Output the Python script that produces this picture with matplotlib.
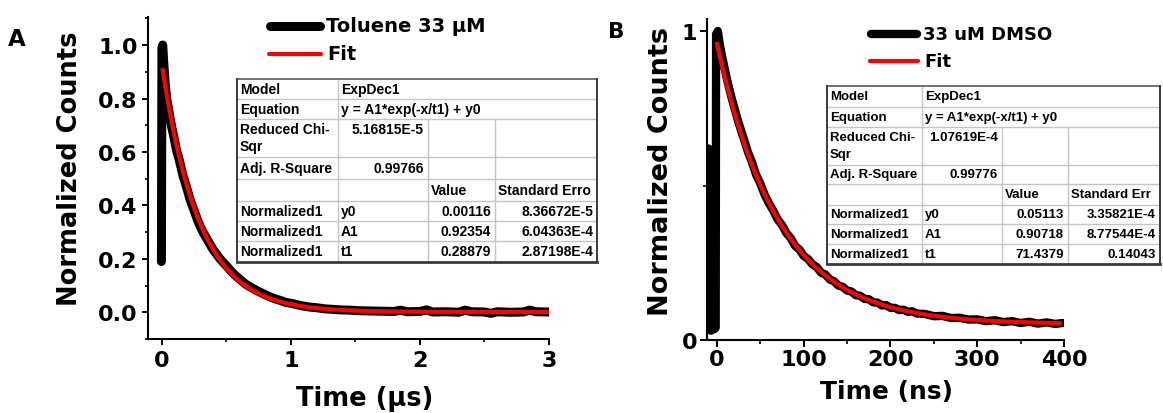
import numpy as np
import matplotlib
matplotlib.use("Agg")
import matplotlib.pyplot as plt
from matplotlib.lines import Line2D
from matplotlib.patches import Rectangle
from matplotlib.ticker import MultipleLocator

W, H = 1163, 414
plt.rcParams['font.family'] = ['DejaVu Sans']
plt.rcParams['font.weight'] = 'bold'

# ---------------- data: toluene, 33 uM (time in microseconds) ----------------
tol_t = [-0.004, 0.000, 0.006, 0.012, 0.020, 0.030, 0.040, 0.050, 0.060, 0.075,
         0.090, 0.100, 0.115, 0.130, 0.150, 0.165, 0.180, 0.200, 0.215, 0.230,
         0.250, 0.265, 0.280, 0.300, 0.320, 0.340, 0.360, 0.380, 0.400, 0.420,
         0.440, 0.460, 0.480, 0.500, 0.530, 0.560, 0.590, 0.620, 0.650, 0.680,
         0.710, 0.740, 0.770, 0.800, 0.840, 0.880, 0.920, 0.960, 1.000, 1.050,
         1.100, 1.150, 1.200, 1.260, 1.320, 1.380, 1.450, 1.520, 1.600, 1.700,
         1.800, 1.850, 1.900, 2.000, 2.050, 2.100, 2.200, 2.300, 2.350, 2.400,
         2.500, 2.550, 2.600, 2.700, 2.800, 2.850, 2.900, 3.000]
tol_y = [0.190, 0.990, 1.000, 0.950, 0.890, 0.830, 0.790, 0.765, 0.735, 0.695,
         0.662, 0.638, 0.603, 0.578, 0.538, 0.508, 0.486, 0.453, 0.426, 0.406,
         0.380, 0.360, 0.340, 0.318, 0.298, 0.282, 0.265, 0.248, 0.232, 0.220,
         0.206, 0.195, 0.184, 0.174, 0.157, 0.142, 0.129, 0.117, 0.105, 0.096,
         0.088, 0.080, 0.073, 0.066, 0.057, 0.050, 0.044, 0.037, 0.034, 0.028,
         0.023, 0.019, 0.017, 0.013, 0.011, 0.009, 0.008, 0.006, 0.005, 0.004,
         0.003, 0.008, 0.002, 0.003, 0.009, 0.001, 0.002, 0.000, 0.008, 0.002,
         0.001, -0.004, 0.002, 0.000, 0.001, 0.008, 0.002, 0.001]
tol_fit = {"y0": 0.00116, "A1": 0.92354, "t1": 0.28879}

# ---------------- data: DMSO, 33 uM (time in ns) ----------------
dmso_t = [-10.0, -9.5, -7.0, -5.0, -3.0, -1.5, -1.0, 1.0, 3.0, 5.0,
          8.0, 11.0, 14.0, 17.0, 20.0, 24.0, 28.0, 32.0, 36.0, 40.0,
          45.0, 50.0, 55.0, 60.0, 65.0, 70.0, 75.0, 80.0, 85.0, 90.0,
          95.0, 100.0, 105.0, 110.0, 115.0, 120.0, 125.0, 130.0, 135.0, 140.0,
          145.0, 150.0, 155.0, 160.0, 165.0, 170.0, 175.0, 180.0, 185.0, 190.0,
          195.0, 200.0, 205.0, 210.0, 215.0, 220.0, 225.0, 230.0, 240.0, 250.0,
          260.0, 270.0, 280.0, 290.0, 300.0, 310.0, 320.0, 330.0, 340.0, 350.0,
          360.0, 370.0, 380.0, 390.0, 398.0]
dmso_y = [0.620, 0.040, 0.030, 0.045, 0.035, 0.040, 0.990, 1.000, 0.960, 0.930,
          0.890, 0.850, 0.815, 0.782, 0.752, 0.712, 0.676, 0.642, 0.606, 0.578,
          0.536, 0.506, 0.470, 0.442, 0.418, 0.390, 0.372, 0.346, 0.330, 0.305,
          0.293, 0.272, 0.262, 0.245, 0.236, 0.218, 0.212, 0.196, 0.190, 0.176,
          0.172, 0.160, 0.157, 0.145, 0.143, 0.133, 0.132, 0.122, 0.121, 0.112,
          0.113, 0.104, 0.104, 0.097, 0.098, 0.091, 0.093, 0.086, 0.084, 0.077,
          0.078, 0.071, 0.072, 0.066, 0.067, 0.061, 0.064, 0.058, 0.061, 0.055,
          0.059, 0.053, 0.057, 0.052, 0.055]
dmso_fit = {"y0": 0.05113, "A1": 0.90718, "t1": 71.4379}

# ---------------- fit report tables ----------------
tol_table = [
    ["Model", "ExpDec1"],
    ["Equation", "y = A1*exp(-x/t1) + y0"],
    ["Reduced Chi-|Sqr", "5.16815E-5", "", ""],
    ["Adj. R-Square", "0.99766", "", ""],
    ["", "", "Value", "Standard Erro"],
    ["Normalized1", "y0", "0.00116", "8.36672E-5"],
    ["Normalized1", "A1", "0.92354", "6.04363E-4"],
    ["Normalized1", "t1", "0.28879", "2.87198E-4"],
]
dmso_table = [
    ["Model", "ExpDec1"],
    ["Equation", "y = A1*exp(-x/t1) + y0"],
    ["Reduced Chi-|Sqr", "1.07619E-4", "", ""],
    ["Adj. R-Square", "0.99776", "", ""],
    ["", "", "Value", "Standard Err"],
    ["Normalized1", "y0", "0.05113", "3.35821E-4"],
    ["Normalized1", "A1", "0.90718", "8.77544E-4"],
    ["Normalized1", "t1", "71.4379", "0.14043"],
]


def fx(px):
    return px / W


def fy(py):
    return 1 - py / H


fig = plt.figure(figsize=(W / 100, H / 100), dpi=100)


def style_axes(ax, tick_len, xpad, ypad):
    for s in ("top", "right"):
        ax.spines[s].set_visible(False)
    for s in ("left", "bottom"):
        ax.spines[s].set_linewidth(1.5)
    ax.tick_params(which="major", direction="out", length=tick_len, width=1.4,
                   labelsize=16, colors="black")
    ax.tick_params(which="minor", direction="out", length=tick_len * 0.55, width=1.2)
    ax.tick_params(axis="x", which="major", pad=xpad)
    ax.tick_params(axis="y", which="major", pad=ypad)


def exp_fit(t, p):
    return p["A1"] * np.exp(-np.asarray(t) / p["t1"]) + p["y0"]


# ---------------- panel A ----------------
axA = fig.add_axes([fx(148), fy(340), fx(549) - fx(148), fy(18) - fy(340)])
axA.plot(tol_t, tol_y, color="black", lw=6.5, solid_joinstyle="round",
         solid_capstyle="round", zorder=2)
tA = np.linspace(0.006, 3.0, 500)
axA.plot(tA, exp_fit(tA, tol_fit), color="red", lw=3.0, zorder=3)
axA.set_xlim(-0.108, 3.0)
axA.set_ylim(-0.1, 1.105)
axA.xaxis.set_major_locator(MultipleLocator(1))
axA.xaxis.set_minor_locator(MultipleLocator(0.5))
axA.yaxis.set_major_locator(MultipleLocator(0.2))
axA.yaxis.set_minor_locator(MultipleLocator(0.1))
style_axes(axA, 4.5, 3.5, 3.0)
axA.set_xlabel("Time (μs)", fontsize=18.5, fontweight="bold")
axA.xaxis.set_label_coords(fx(365), fy(399), transform=fig.transFigure)
axA.xaxis.label.set_va("center")
axA.set_ylabel("Normalized Counts", fontsize=18.5, fontweight="bold")
axA.yaxis.set_label_coords(fx(70), fy(169), transform=fig.transFigure)
axA.yaxis.label.set_va("center")

# ---------------- panel B ----------------
axB = fig.add_axes([fx(707), fy(341), fx(1064) - fx(707), fy(20) - fy(341)])
axB.plot(dmso_t, dmso_y, color="black", lw=6.0, solid_joinstyle="round",
         solid_capstyle="round", zorder=2)
tB = np.linspace(0.0, 395.0, 500)
axB.plot(tB, exp_fit(tB, dmso_fit), color="red", lw=3.0, zorder=3)
axB.set_xlim(-11.5, 400)
axB.set_ylim(0, 1.039)
axB.xaxis.set_major_locator(MultipleLocator(100))
axB.xaxis.set_minor_locator(MultipleLocator(50))
axB.yaxis.set_major_locator(MultipleLocator(1))
axB.yaxis.set_minor_locator(MultipleLocator(0.5))
style_axes(axB, 5.0, 1.5, 2.0)
axB.set_xlabel("Time (ns)", fontsize=18, fontweight="bold")
axB.xaxis.set_label_coords(fx(886), fy(392), transform=fig.transFigure)
axB.xaxis.label.set_va("center")
axB.set_ylabel("Normalized Counts", fontsize=19.5, fontweight="bold")
axB.yaxis.set_label_coords(fx(661), fy(172), transform=fig.transFigure)
axB.yaxis.label.set_va("center")

# ---------------- panel letters ----------------
fig.text(fx(17), fy(39), "A", fontsize=16.5, fontweight="bold", ha="center", va="center")
fig.text(fx(616), fy(32), "B", fontsize=15.5, fontweight="bold", ha="center", va="center")


# ---------------- legends ----------------
def legend_entry(x0, x1, y, color, lw, label, size):
    fig.add_artist(Line2D([fx(x0), fx(x1)], [fy(y), fy(y)], color=color, lw=lw,
                          solid_capstyle="round", transform=fig.transFigure))
    fig.text(fx(x1 + 6), fy(y), label, fontsize=size, fontweight="bold",
             ha="left", va="center")


legend_entry(270, 320, 27, "black", 6.5, "Toluene 33 μM", 14)
legend_entry(269, 321, 55, "red", 3.0, "Fit", 14)
legend_entry(871, 917, 35, "black", 6.0, "33 uM DMSO", 13)
legend_entry(870, 918, 62, "red", 3.0, "Fit", 13)


# ---------------- fit tables ----------------
def draw_table(rows, cols, borders, size):
    tfont = dict(family=["Liberation Sans", "DejaVu Sans"], fontsize=size,
                 fontweight="bold", color="black")
    left, right = cols[0], cols[-1]
    top, bottom = borders[0], borders[-1]
    fig.add_artist(Rectangle((fx(left), fy(bottom)), fx(right) - fx(left),
                             fy(top) - fy(bottom), facecolor="white",
                             edgecolor="none", transform=fig.transFigure, zorder=4))
    grid = "#c4c4c4"
    dark = "#3a3a3a"

    def hline(y, x0, x1, c, lw):
        fig.add_artist(Line2D([fx(x0), fx(x1)], [fy(y), fy(y)], color=c, lw=lw,
                              transform=fig.transFigure, zorder=5))

    def vline(x, y0, y1, c, lw):
        fig.add_artist(Line2D([fx(x), fx(x)], [fy(y0), fy(y1)], color=c, lw=lw,
                              transform=fig.transFigure, zorder=5))

    for y in borders[1:-1]:
        hline(y, left, right, grid, 1.0)
    for r, row in enumerate(rows):
        y0, y1 = borders[r], borders[r + 1]
        inner = cols[1:2] if len(row) == 2 else cols[1:4]
        for x in inner:
            vline(x, y0, y1, grid, 1.0)
        for c, txt in enumerate(row):
            if not txt:
                continue
            numeric = (r in (2, 3) and c == 1) or (r >= 5 and c >= 2)
            yc = y0 + 10 if r == 2 else (y0 + y1) / 2
            if numeric:
                fig.text(fx(cols[c + 1] - 4), fy(yc), txt, ha="right", va="center",
                         zorder=6, **tfont)
            else:
                parts = txt.split("|")
                for k, part in enumerate(parts):
                    fig.text(fx(cols[c] + 3), fy(yc + 17 * k), part, ha="left",
                             va="center", zorder=6, **tfont)
    hline(top, left, right, "#5a5a5a", 1.2)
    hline(bottom, left, right, dark, 2.0)
    vline(left, top, bottom, dark, 1.4)
    vline(right, top, bottom, dark, 1.4)


draw_table(tol_table, [237, 338, 428, 495, 597],
           [80, 100, 120, 158, 180, 202, 222, 242, 263], 10)
draw_table(dmso_table, [827, 922, 1002, 1068, 1160],
           [87, 108, 128, 166, 185, 206, 225, 245, 265], 9.5)

fig.savefig("out.png", dpi=100)
